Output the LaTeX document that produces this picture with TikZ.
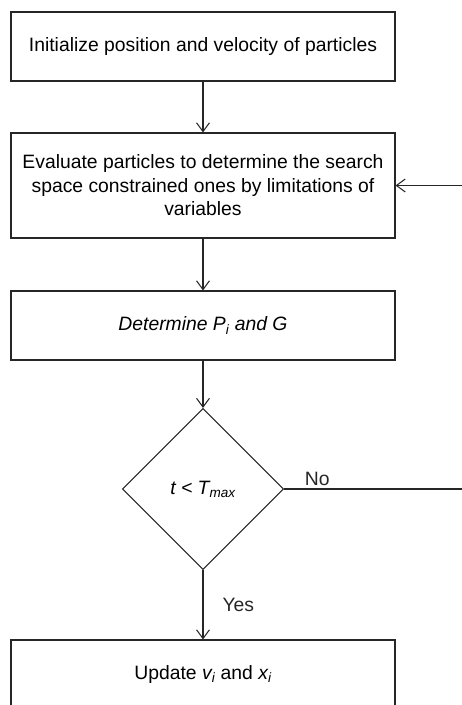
\documentclass[tikz,border=0pt]{standalone}
\usepackage{fontspec}
\setmainfont{Liberation Sans}
\usepackage{tikz}
\usetikzlibrary{arrows.meta, positioning, shapes.geometric}

\begin{document}
\begin{tikzpicture}[
        >={Straight Barb[length=7.5pt, width=11pt]},
        every node/.style={font=\fontsize{16.5pt}{20pt}\selectfont},
        box/.style={draw=black!85, line width=0.9pt, minimum width=11.52cm, minimum height=2.07cm, align=center, inner sep=0pt},
        decision/.style={draw=black!85, line width=0.9pt, diamond, aspect=1, minimum width=4.83cm, minimum height=4.83cm, inner sep=0pt},
        flow/.style={->, line width=0.9pt, black!85},
        annot/.style={inner sep=2pt}
    ]
    \useasboundingbox (0,0) rectangle (13.86,21.15);

    % --- Main column of steps ---
    \node[box] (init) at (6.09, 19.755) {Initialize position and velocity of particles};
    \node[box, minimum height=3.15cm] (eval) at (6.09, 15.585) {Evaluate particles to determine the search\\space constrained ones by limitations of\\variables};
    \node[box] (best) at (6.09, 11.385) {\textit{Determine P\textsubscript{i} and G}};
    \node[decision] (check) at (6.09, 6.48) {\textit{t < T\textsubscript{max}}};
    \node[box] (update) at (6.09, 0.915) {Update \textit{v\textsubscript{i}} and \textit{x\textsubscript{i}}};

    % loop back runs just past the right edge
    \coordinate (back) at (13.95, 6.48);

    % --- Arrows ---
    \draw[flow] (init) -- (eval);
    \draw[flow] (eval) -- (best);
    \draw[flow] (best) -- (check);
    \draw[flow] (check) -- node[annot, right, xshift=0.5cm] (yes) {Yes} (update);
    \draw[flow] (check.east) -- node[annot, pos=0.1, anchor=south west] (no) {No} (back) |- (eval.east);
\end{tikzpicture}
\end{document}
